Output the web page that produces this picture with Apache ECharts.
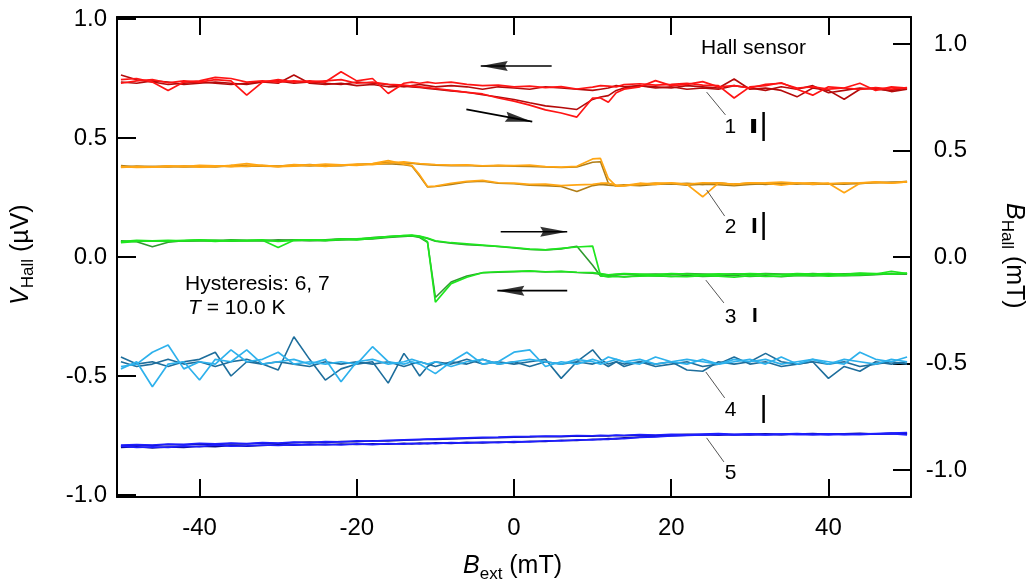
<!DOCTYPE html>
<html>
<head>
<meta charset="utf-8">
<title>Hall sensor hysteresis</title>
<script src="https://cdn.jsdelivr.net/npm/echarts@6/dist/echarts.min.js"></script>
<style>
  html, body { margin: 0; padding: 0; background: #fff; }
  #chart { width: 1030px; height: 585px; }
</style>
</head>
<body>
<div id="chart"></div>
<script>
// External field values (mT) shared by every sweep
const B_EXT_MT = [
  -50, -48, -46, -44, -42, -40, -38, -36, -34, -32, -30, -28, -26, -24, -22, -20, -18, -16, -14,
  -13, -12, -11, -10,
  -8, -6, -4, -2, 0, 2, 4, 6, 8, 10,
  11, 12, 13, 14,
  16, 18, 20, 22, 24, 26, 28, 30, 32, 34, 36, 38, 40, 42, 44, 46, 48, 50
];

// Hall voltages (µV); "up" = field swept upward, "down" = field swept downward
// Sensor 1 (red)
const S1_LIGHT_UP = [
  0.745, 0.750, 0.735, 0.700, 0.735, 0.740, 0.755, 0.750, 0.735, 0.740, 0.735, 0.740, 0.735, 0.740, 0.745, 0.730, 0.735, 0.725, 0.722,
  0.718, 0.715, 0.712, 0.708,
  0.700, 0.692, 0.685, 0.668, 0.655, 0.638, 0.618, 0.605, 0.588, 0.668,
  0.668, 0.650, 0.690, 0.705,
  0.715, 0.741, 0.720, 0.725, 0.737, 0.715, 0.720, 0.710, 0.725, 0.730, 0.710, 0.715, 0.705, 0.710, 0.730, 0.700, 0.715, 0.710
];
const S1_LIGHT_DOWN = [
  0.730, 0.740, 0.745, 0.732, 0.740, 0.735, 0.745, 0.740, 0.680, 0.735, 0.745, 0.735, 0.740, 0.735, 0.778, 0.740, 0.750, 0.687, 0.730,
  0.735, 0.730, 0.735, 0.730,
  0.735, 0.725, 0.720, 0.722, 0.715, 0.718, 0.712, 0.716, 0.706, 0.714,
  0.720, 0.718, 0.715, 0.724,
  0.728, 0.722, 0.725, 0.730, 0.722, 0.720, 0.668, 0.715, 0.720, 0.732, 0.705, 0.680, 0.715, 0.710, 0.704, 0.712, 0.705, 0.712
];
const S1_DARK_UP = [
  0.765, 0.745, 0.735, 0.725, 0.730, 0.735, 0.730, 0.725, 0.730, 0.735, 0.730, 0.765, 0.730, 0.725, 0.730, 0.720, 0.725, 0.715, 0.718,
  0.715, 0.712, 0.708, 0.705,
  0.698, 0.692, 0.682, 0.672, 0.662, 0.648, 0.635, 0.628, 0.620, 0.662,
  0.672, 0.678, 0.700, 0.710,
  0.720, 0.715, 0.710, 0.720, 0.715, 0.710, 0.748, 0.705, 0.710, 0.700, 0.673, 0.710, 0.700, 0.663, 0.705, 0.710, 0.695, 0.705
];
const S1_DARK_DOWN = [
  0.735, 0.730, 0.740, 0.735, 0.725, 0.730, 0.735, 0.730, 0.725, 0.735, 0.740, 0.730, 0.735, 0.730, 0.725, 0.735, 0.730, 0.725, 0.715,
  0.720, 0.725, 0.720, 0.715,
  0.720, 0.715, 0.705, 0.715, 0.710, 0.705, 0.715, 0.710, 0.705, 0.700,
  0.705, 0.710, 0.720, 0.715,
  0.720, 0.710, 0.715, 0.705, 0.710, 0.705, 0.720, 0.710, 0.700, 0.715, 0.705, 0.720, 0.690, 0.700, 0.710, 0.705, 0.700, 0.710
];

// Sensor 2 (orange)
const S2_LIGHT_UP = [
  0.380, 0.376, 0.378, 0.380, 0.382, 0.378, 0.380, 0.385, 0.392, 0.384, 0.380, 0.382, 0.386, 0.381, 0.386, 0.390, 0.388, 0.395, 0.400,
  0.396, 0.392, 0.390, 0.388,
  0.386, 0.387, 0.383, 0.385, 0.384, 0.386, 0.380, 0.378, 0.381, 0.412,
  0.414, 0.330, 0.298, 0.300,
  0.310, 0.305, 0.312, 0.305, 0.253, 0.310, 0.305, 0.312, 0.310, 0.302, 0.310, 0.306, 0.310, 0.270, 0.310, 0.315, 0.310, 0.316
];
const S2_LIGHT_DOWN = [
  0.376, 0.380, 0.378, 0.383, 0.380, 0.385, 0.383, 0.380, 0.382, 0.385, 0.380, 0.388, 0.385, 0.390, 0.387, 0.385, 0.392, 0.405, 0.390,
  0.385, 0.345, 0.296, 0.298,
  0.310, 0.318, 0.322, 0.312, 0.310, 0.305, 0.306, 0.300, 0.303, 0.305,
  0.310, 0.310, 0.302, 0.300,
  0.305, 0.310, 0.310, 0.305, 0.312, 0.310, 0.305, 0.310, 0.312, 0.315, 0.310, 0.311, 0.308, 0.310, 0.312, 0.315, 0.311, 0.316
];
const S2_DARK_UP = [
  0.384, 0.378, 0.380, 0.382, 0.378, 0.380, 0.383, 0.380, 0.385, 0.382, 0.380, 0.384, 0.388, 0.383, 0.385, 0.388, 0.392, 0.398, 0.395,
  0.394, 0.390, 0.388, 0.386,
  0.384, 0.385, 0.381, 0.384, 0.382, 0.380, 0.378, 0.376, 0.378, 0.398,
  0.400, 0.310, 0.298, 0.300,
  0.305, 0.310, 0.306, 0.310, 0.305, 0.312, 0.306, 0.310, 0.305, 0.310, 0.306, 0.312, 0.306, 0.310, 0.308, 0.314, 0.312, 0.318
];
const S2_DARK_DOWN = [
  0.378, 0.382, 0.380, 0.378, 0.382, 0.380, 0.378, 0.384, 0.380, 0.384, 0.382, 0.386, 0.383, 0.386, 0.384, 0.388, 0.390, 0.392, 0.388,
  0.382, 0.340, 0.294, 0.296,
  0.305, 0.315, 0.318, 0.310, 0.308, 0.302, 0.300, 0.296, 0.275, 0.300,
  0.305, 0.302, 0.300, 0.303,
  0.300, 0.305, 0.308, 0.302, 0.306, 0.304, 0.300, 0.305, 0.308, 0.306, 0.310, 0.305, 0.308, 0.306, 0.310, 0.312, 0.315, 0.314
];

// Sensor 3 (green)
const S3_LIGHT_UP = [
  0.065, 0.070, 0.068, 0.066, 0.070, 0.072, 0.070, 0.068, 0.070, 0.072, 0.066, 0.070, 0.072, 0.070, 0.074, 0.076, 0.080, 0.085, 0.090,
  0.092, 0.088, 0.080, 0.068,
  0.060, 0.055, 0.050, 0.045, 0.040, 0.033, 0.030, 0.036, 0.042, 0.046,
  -0.078, -0.084, -0.082, -0.083,
  -0.080, -0.078, -0.081, -0.083, -0.078, -0.080, -0.085, -0.078, -0.082, -0.080, -0.077, -0.076, -0.080, -0.077, -0.075, -0.072, -0.060, -0.070
];
const S3_LIGHT_DOWN = [
  0.060, 0.066, 0.068, 0.070, 0.068, 0.070, 0.066, 0.070, 0.068, 0.070, 0.040, 0.070, 0.072, 0.070, 0.075, 0.072, 0.078, 0.086, 0.090,
  0.090, 0.086, 0.064, -0.190,
  -0.112, -0.085, -0.066, -0.062, -0.060, -0.058, -0.062, -0.060, -0.064, -0.066,
  -0.070, -0.075, -0.072, -0.070,
  -0.072, -0.074, -0.070, -0.072, -0.074, -0.071, -0.073, -0.070, -0.072, -0.074, -0.070, -0.072, -0.070, -0.073, -0.068, -0.070, -0.072, -0.068
];
const S3_DARK_UP = [
  0.068, 0.064, 0.043, 0.062, 0.068, 0.070, 0.068, 0.072, 0.070, 0.068, 0.072, 0.070, 0.068, 0.072, 0.076, 0.074, 0.082, 0.086, 0.088,
  0.090, 0.086, 0.078, 0.066,
  0.058, 0.052, 0.048, 0.044, 0.038, 0.032, 0.030, 0.034, 0.045, -0.035,
  -0.080, -0.082, -0.080, -0.084,
  -0.078, -0.080, -0.082, -0.078, -0.082, -0.080, -0.078, -0.082, -0.079, -0.083, -0.078, -0.080, -0.076, -0.079, -0.077, -0.074, -0.070, -0.072
];
const S3_DARK_DOWN = [
  0.062, 0.068, 0.066, 0.068, 0.066, 0.068, 0.070, 0.066, 0.068, 0.070, 0.068, 0.072, 0.070, 0.068, 0.072, 0.074, 0.076, 0.082, 0.086,
  0.088, 0.082, 0.062, -0.170,
  -0.105, -0.080, -0.066, -0.064, -0.062, -0.060, -0.063, -0.061, -0.065, -0.068,
  -0.072, -0.076, -0.074, -0.072,
  -0.074, -0.072, -0.074, -0.070, -0.072, -0.074, -0.071, -0.073, -0.070, -0.072, -0.074, -0.070, -0.073, -0.071, -0.070, -0.072, -0.070, -0.071
];

// Sensor 4 (sky blue)
const S4_LIGHT_UP = [
  -0.460, -0.450, -0.400, -0.370, -0.470, -0.440, -0.450, -0.390, -0.440, -0.430, -0.400, -0.450, -0.440, -0.450, -0.440, -0.450, -0.377, -0.440, -0.450,
  -0.440, -0.450, -0.470, -0.490,
  -0.440, -0.400, -0.450, -0.440, -0.400, -0.390, -0.460, -0.440, -0.450, -0.430,
  -0.440, -0.420, -0.430, -0.440,
  -0.450, -0.420, -0.440, -0.450, -0.430, -0.450, -0.440, -0.430, -0.450, -0.420, -0.450, -0.430, -0.440, -0.450, -0.400, -0.430, -0.440, -0.420
];
const S4_LIGHT_DOWN = [
  -0.470, -0.440, -0.545, -0.450, -0.440, -0.517, -0.430, -0.440, -0.390, -0.450, -0.440, -0.430, -0.450, -0.430, -0.524, -0.440, -0.430, -0.450, -0.440,
  -0.430, -0.440, -0.450, -0.440,
  -0.460, -0.440, -0.430, -0.450, -0.440, -0.430, -0.440, -0.450, -0.430, -0.440,
  -0.450, -0.440, -0.430, -0.440,
  -0.430, -0.450, -0.440, -0.430, -0.440, -0.450, -0.430, -0.440, -0.430, -0.450, -0.440, -0.430, -0.450, -0.430, -0.440, -0.450, -0.430, -0.440
];
const S4_DARK_UP = [
  -0.420, -0.450, -0.440, -0.460, -0.440, -0.430, -0.400, -0.500, -0.440, -0.450, -0.475, -0.335, -0.430, -0.517, -0.470, -0.450, -0.440, -0.530, -0.405,
  -0.450, -0.500, -0.460, -0.440,
  -0.450, -0.430, -0.450, -0.440, -0.450, -0.440, -0.430, -0.510, -0.440, -0.390,
  -0.430, -0.450, -0.440, -0.460,
  -0.440, -0.450, -0.440, -0.475, -0.480, -0.440, -0.450, -0.440, -0.405, -0.440, -0.450, -0.440, -0.510, -0.460, -0.480, -0.440, -0.450, -0.440
];
const S4_DARK_DOWN = [
  -0.440, -0.460, -0.450, -0.430, -0.450, -0.440, -0.460, -0.440, -0.430, -0.450, -0.440, -0.450, -0.460, -0.440, -0.450, -0.440, -0.450, -0.440, -0.460,
  -0.450, -0.440, -0.450, -0.460,
  -0.440, -0.450, -0.430, -0.450, -0.440, -0.460, -0.440, -0.450, -0.440, -0.450,
  -0.440, -0.460, -0.440, -0.450,
  -0.440, -0.460, -0.450, -0.440, -0.460, -0.450, -0.420, -0.450, -0.440, -0.460, -0.450, -0.440, -0.450, -0.440, -0.460, -0.450, -0.440, -0.450
];

// Sensor 5 (blue)
const S5_LIGHT_UP = [
  -0.795, -0.800, -0.798, -0.800, -0.795, -0.797, -0.790, -0.795, -0.793, -0.790, -0.792, -0.788, -0.790, -0.787, -0.790, -0.785, -0.788, -0.784, -0.786,
  -0.783, -0.785, -0.782, -0.784,
  -0.780, -0.782, -0.778, -0.780, -0.776, -0.777, -0.772, -0.773, -0.768, -0.768,
  -0.765, -0.766, -0.762, -0.763,
  -0.758, -0.756, -0.752, -0.750, -0.748, -0.745, -0.748, -0.745, -0.747, -0.744, -0.746, -0.745, -0.747, -0.744, -0.746, -0.743, -0.742, -0.748
];
const S5_LIGHT_DOWN = [
  -0.790, -0.788, -0.790, -0.786, -0.787, -0.783, -0.785, -0.782, -0.784, -0.780, -0.782, -0.778, -0.780, -0.776, -0.777, -0.772, -0.774, -0.770, -0.768,
  -0.767, -0.766, -0.765, -0.764,
  -0.762, -0.760, -0.758, -0.757, -0.755, -0.754, -0.752, -0.753, -0.750, -0.751,
  -0.749, -0.750, -0.748, -0.749,
  -0.746, -0.748, -0.745, -0.747, -0.744, -0.742, -0.745, -0.743, -0.746, -0.744, -0.742, -0.745, -0.743, -0.746, -0.744, -0.742, -0.740, -0.738
];
const S5_DARK_UP = [
  -0.800, -0.797, -0.802, -0.798, -0.800, -0.795, -0.797, -0.792, -0.795, -0.792, -0.789, -0.791, -0.787, -0.789, -0.786, -0.788, -0.785, -0.787, -0.783,
  -0.785, -0.782, -0.784, -0.781,
  -0.783, -0.779, -0.781, -0.777, -0.779, -0.774, -0.775, -0.770, -0.771, -0.766,
  -0.767, -0.763, -0.764, -0.760,
  -0.757, -0.754, -0.751, -0.749, -0.747, -0.749, -0.746, -0.748, -0.745, -0.747, -0.744, -0.746, -0.744, -0.745, -0.743, -0.744, -0.741, -0.745
];
const S5_DARK_DOWN = [
  -0.793, -0.790, -0.792, -0.788, -0.790, -0.786, -0.788, -0.784, -0.786, -0.782, -0.784, -0.780, -0.778, -0.780, -0.775, -0.776, -0.772, -0.773, -0.770,
  -0.769, -0.768, -0.766, -0.767,
  -0.764, -0.762, -0.760, -0.759, -0.757, -0.756, -0.754, -0.755, -0.752, -0.753,
  -0.751, -0.752, -0.750, -0.751,
  -0.748, -0.750, -0.747, -0.745, -0.746, -0.744, -0.747, -0.745, -0.743, -0.746, -0.744, -0.742, -0.745, -0.743, -0.741, -0.744, -0.742, -0.740
];

// Axis ticks
const X_TICKS = [-40, -20, 0, 20, 40];
const V_TICKS = [-1.0, -0.5, 0.0, 0.5, 1.0];
const B_TICKS = [-1.0, -0.5, 0.0, 0.5, 1.0];

// Sensor numbers, their leader lines and the scale bars (mT, µV)
const SENSOR_NAMES = ['1', '2', '3', '4', '5'];
const SENSOR_NAME_AT = [[27.52, 0.546], [27.56, 0.126], [27.56, -0.252], [27.56, -0.643], [27.56, -0.908]];
const LEADERS = [
  [[24.5, 0.693], [26.9, 0.597]],
  [[24.5, 0.282], [26.8, 0.172]],
  [[24.4, -0.097], [26.7, -0.193]],
  [[24.4, -0.483], [26.8, -0.592]],
  [[24.5, -0.760], [26.7, -0.861]]
];
const WIDE_BARS = [
  [[30.48, 0.580], [30.48, 0.521]],
  [[30.58, 0.164], [30.58, 0.101]],
  [[30.64, -0.214], [30.64, -0.273]]
];
const NARROW_BARS = [
  [[31.75, 0.609], [31.75, 0.487]],
  [[31.75, 0.189], [31.75, 0.071]],
  [[31.75, -0.580], [31.75, -0.697]]
];
// Sweep-direction arrows: [tail, tip]
const ARROWS = [
  [[4.79, 0.8025], [-4.23, 0.8025]],
  [[-6.06, 0.6206], [2.32, 0.5685]],
  [[-1.69, 0.106], [6.77, 0.106]],
  [[6.77, -0.1416], [-2.12, -0.1416]]
];

const FONT = '"Liberation Sans", Arial, Helvetica, sans-serif';
const COLORS = {
  s1: ['#ff1414', '#b40a0a'],
  s2: ['#ffa614', '#b07d16'],
  s3: ['#1ee61e', '#2f9a2f'],
  s4: ['#2eb1ec', '#1e6e9c'],
  s5: ['#1e1eff', '#0a0a96']
};

function trace(name, values, color, width) {
  return {
    type: 'line', name, silent: true,
    data: B_EXT_MT.map((b, i) => [b, values[i]]),
    showSymbol: false, symbol: 'none',
    lineStyle: { color, width },
    z: 2
  };
}
function segment(points, color, width, z) {
  return {
    type: 'line', silent: true, data: points,
    showSymbol: false, symbol: 'none',
    lineStyle: { color, width, cap: 'butt' }, z: z || 5
  };
}

const series = [];
[
  ['s1', S1_DARK_UP, S1_DARK_DOWN, S1_LIGHT_UP, S1_LIGHT_DOWN],
  ['s2', S2_DARK_UP, S2_DARK_DOWN, S2_LIGHT_UP, S2_LIGHT_DOWN],
  ['s3', S3_DARK_UP, S3_DARK_DOWN, S3_LIGHT_UP, S3_LIGHT_DOWN],
  ['s4', S4_DARK_UP, S4_DARK_DOWN, S4_LIGHT_UP, S4_LIGHT_DOWN],
  ['s5', S5_DARK_UP, S5_DARK_DOWN, S5_LIGHT_UP, S5_LIGHT_DOWN]
].forEach(([key, dUp, dDown, lUp, lDown]) => {
  const [light, dark] = COLORS[key];
  series.push(trace(key + ' dark up', dUp, dark, 1.6));
  series.push(trace(key + ' dark down', dDown, dark, 1.6));
  series.push(trace(key + ' up', lUp, light, 1.7));
  series.push(trace(key + ' down', lDown, light, 1.7));
});

LEADERS.forEach(p => series.push(segment(p, '#555', 1)));
const wideWidths = [5, 3.5, 3];
WIDE_BARS.forEach((p, i) => series.push(segment(p, '#000', wideWidths[i])));
NARROW_BARS.forEach(p => series.push(segment(p, '#000', 2.5)));
ARROWS.forEach(p => series.push(segment(p, '#000', 1.7)));

// Arrow heads sit on the tips; rotation/offset give the direction
const HEAD = 'path://M0,0L28,5L0,10L3,5Z';
const headStyle = [
  { rot: 180, off: [13.5, 0] },
  { rot: -10.6, off: [-13.3, -2.5] },
  { rot: 0, off: [-13.5, 0] },
  { rot: 180, off: [13.5, 0] }
];
series.push({
  type: 'scatter', silent: true, z: 6,
  symbol: HEAD, symbolSize: [27, 10], symbolKeepAspect: false,
  itemStyle: { color: '#000' },
  data: ARROWS.map((a, i) => ({
    value: a[1], symbolRotate: headStyle[i].rot, symbolOffset: headStyle[i].off
  }))
});

// Axis titles with subscripts, laid out piece by piece
const ctx = document.createElement('canvas').getContext('2d');
function textWidth(text, font) { ctx.font = font; return ctx.measureText(text).width; }
function textStyle(text, font, align) {
  return { text, font, fill: '#000', align: align || 'left', verticalAlign: 'middle',
           textAlign: align || 'left', textVerticalAlign: 'middle' };
}
function richTitle(parts, x, y, rotation) {
  let cx = 0;
  const children = parts.map(p => {
    const font = (p.italic ? 'italic ' : '') + p.size + 'px ' + FONT;
    const el = { type: 'text', x: cx, y: p.dy || 0, style: textStyle(p.text, font) };
    cx += textWidth(p.text, font);
    return el;
  });
  return { type: 'group', x, y, rotation: rotation || 0, children, silent: true };
}
function plainText(text, x, y, size, align) {
  return { type: 'text', x, y, silent: true, style: textStyle(text, size + 'px ' + FONT, align) };
}

const graphic = [
  richTitle([{ text: 'B', italic: true, size: 25 }, { text: 'ext', size: 17, dy: 8 }, { text: ' (mT)', size: 25 }], 463, 566, 0),
  richTitle([{ text: 'V', italic: true, size: 25 }, { text: 'Hall', size: 17, dy: 7 }, { text: ' (µV)', size: 25 }], 21, 305, Math.PI / 2),
  richTitle([{ text: 'B', italic: true, size: 25 }, { text: 'Hall', size: 17, dy: 7 }, { text: ' (mT)', size: 25 }], 1014, 203, -Math.PI / 2),
  plainText('Hall sensor', 701, 48, 21),
  plainText('Hysteresis: 6, 7', 185, 284, 21),
  richTitle([{ text: 'T', italic: true, size: 21 }, { text: ' = 10.0 K', size: 21 }], 188, 308, 0)
];

const axisLineStyle = { color: '#000', width: 2 };
const labelStyle = { fontFamily: FONT, fontSize: 24, color: '#000' };

const option = {
  animation: false,
  backgroundColor: '#fff',
  grid: { left: 117, right: 119, top: 17, bottom: 88, outerBoundsMode: 'none' },
  xAxis: [
    {
      type: 'value', position: 'bottom', min: -50.5, max: 50.5,
      axisLine: { show: true, onZero: false, lineStyle: axisLineStyle },
      axisTick: { show: true, inside: true, length: 18, customValues: X_TICKS, lineStyle: axisLineStyle },
      axisLabel: Object.assign({ show: true, margin: 19, customValues: X_TICKS, formatter: v => String(v) }, labelStyle),
      splitLine: { show: false }
    },
    {
      type: 'value', position: 'top', min: -50.5, max: 50.5,
      axisLine: { show: true, onZero: false, lineStyle: axisLineStyle },
      axisTick: { show: true, inside: true, length: 18, customValues: X_TICKS, lineStyle: axisLineStyle },
      axisLabel: { show: false },
      splitLine: { show: false }
    }
  ],
  yAxis: [
    {
      type: 'value', position: 'left', min: -1.0084, max: 1.0084,
      axisLine: { show: true, onZero: false, lineStyle: axisLineStyle },
      axisTick: { show: true, inside: true, length: 19, customValues: V_TICKS, lineStyle: axisLineStyle },
      axisLabel: Object.assign({ show: true, margin: 10, customValues: V_TICKS, formatter: v => v.toFixed(1) }, labelStyle),
      splitLine: { show: false }
    },
    {
      type: 'value', position: 'right', min: -1.127, max: 1.127,
      axisLine: { show: true, onZero: false, lineStyle: axisLineStyle },
      axisTick: { show: true, inside: true, length: 18, customValues: B_TICKS, lineStyle: axisLineStyle },
      axisLabel: Object.assign({ show: true, margin: 56, align: 'right', customValues: B_TICKS, formatter: v => v.toFixed(1) }, labelStyle),
      splitLine: { show: false }
    }
  ],
  graphic,
  series
};

const chart = echarts.init(document.getElementById('chart'), null, { renderer: 'canvas' });
chart.setOption(option);

// Sensor numbers placed through the axes' scales
const nameTexts = SENSOR_NAME_AT.map((p, i) => {
  const [px, py] = chart.convertToPixel({ xAxisIndex: 0, yAxisIndex: 0 }, p);
  return plainText(SENSOR_NAMES[i], px, py, 21, 'center');
});
chart.setOption({ graphic: graphic.concat(nameTexts) });
</script>
</body>
</html>
